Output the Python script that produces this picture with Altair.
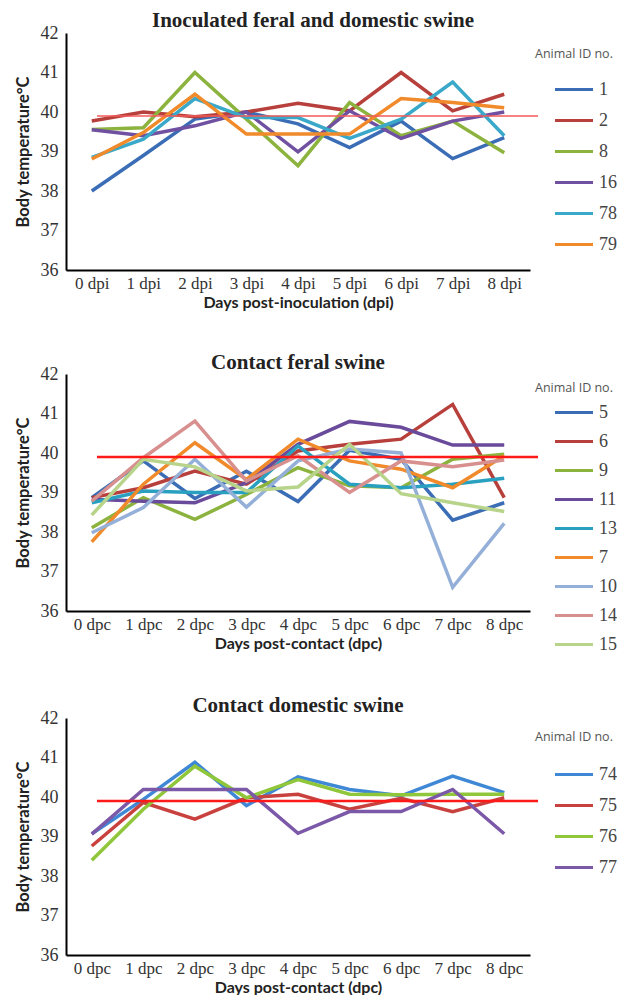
import altair as alt
import pandas as pd

# ---------------- data ----------------
days_dpi = ["0 dpi", "1 dpi", "2 dpi", "3 dpi", "4 dpi", "5 dpi", "6 dpi", "7 dpi", "8 dpi"]
days_dpc = ["0 dpc", "1 dpc", "2 dpc", "3 dpc", "4 dpc", "5 dpc", "6 dpc", "7 dpc", "8 dpc"]

threshold = 39.9

# Panel 1: inoculated feral and domestic swine
ids_inoc = ["1", "2", "8", "16", "78", "79"]
colors_inoc = ["#3a6db5", "#b8403c", "#8bb33e", "#7050a0", "#3aa8c8", "#f08a2a"]
t_1 = [38.0, 38.9, 39.82, 40.0, 39.7, 39.1, 39.77, 38.82, 39.35]
t_2 = [39.77, 40.0, 39.88, 40.0, 40.22, 40.03, 41.0, 40.03, 40.45]
t_8 = [39.56, 39.6, 41.0, 39.82, 38.64, 40.24, 39.4, 39.77, 38.97]
t_16 = [39.55, 39.4, 39.65, 40.0, 38.99, 40.03, 39.33, 39.77, 40.0]
t_78 = [38.85, 39.31, 40.34, 39.86, 39.86, 39.33, 39.82, 40.76, 39.4]
t_79 = [38.81, 39.48, 40.45, 39.44, 39.44, 39.44, 40.34, 40.24, 40.11]

# Panel 2: contact feral swine
ids_feral = ["5", "6", "9", "11", "13", "7", "10", "14", "15"]
colors_feral = ["#3a6db5", "#b8403c", "#8bb33e", "#6a4a9a", "#2aa0c0",
                "#f08a2a", "#95b0d8", "#d8908f", "#b8d48a"]
t_5 = [38.87, 39.8, 38.85, 39.54, 38.77, 40.07, 39.84, 38.3, 38.74]
t_6 = [38.87, 39.12, 39.54, 39.21, 40.05, 40.22, 40.35, 41.23, 38.87]
t_9 = [38.11, 38.87, 38.32, 38.95, 39.63, 39.17, 39.12, 39.84, 39.97]
t_11 = [38.83, 38.78, 38.74, 39.25, 40.22, 40.8, 40.65, 40.2, 40.2]
t_13 = [38.74, 39.04, 39.0, 39.0, 40.18, 39.21, 39.12, 39.21, 39.36]
t_7 = [37.75, 39.21, 40.26, 39.33, 40.35, 39.8, 39.59, 39.12, 39.93]
t_10 = [37.98, 38.62, 39.84, 38.63, 39.8, 40.1, 40.0, 36.6, 38.22]
t_14 = [38.78, 39.88, 40.81, 39.29, 39.93, 39.0, 39.8, 39.65, 39.82]
t_15 = [38.43, 39.84, 39.65, 39.04, 39.14, 40.22, 38.97, 38.74, 38.52]

# Panel 3: contact domestic swine
ids_dom = ["74", "75", "76", "77"]
colors_dom = ["#3f88d6", "#c9413e", "#8fc63a", "#7b58a8"]
t_74 = [39.07, 39.94, 40.88, 39.78, 40.51, 40.19, 40.03, 40.53, 40.11]
t_75 = [38.76, 39.86, 39.44, 39.98, 40.07, 39.69, 39.97, 39.63, 39.98]
t_76 = [38.4, 39.69, 40.78, 39.98, 40.44, 40.07, 40.06, 40.07, 40.07]
t_77 = [39.06, 40.19, 40.19, 40.19, 39.08, 39.63, 39.63, 40.19, 39.07]

y_ticks = [36, 37, 38, 39, 40, 41, 42]

SERIF = "Liberation Serif"
SANS = "Lato"


def long_table(days, ids, series):
    rows = []
    for k, (aid, vals) in enumerate(zip(ids, series)):
        for d, v in zip(days, vals):
            rows.append({"day": d, "temp": v, "animal": aid, "order": k})
    return pd.DataFrame(rows)


def panel(title, days, xtitle, ids, colors, series, legend_y, row_pad,
          title_pad, thr_color, thr_width, t_offset, t_dx):
    df = long_table(days, ids, series)
    x = alt.X("day:N", sort=days,
              scale=alt.Scale(type="point", padding=0.5),
              axis=alt.Axis(title=xtitle, labelAngle=0, ticks=False,
                            domainColor="black", domainWidth=2,
                            labelFont=SERIF, labelFontSize=17, labelColor="#333",
                            labelPadding=5, labelOverlap=False,
                            titleFont=SANS, titleFontSize=16,
                            titleFontWeight="bold", titleColor="#222",
                            titlePadding=3, grid=False))
    y_scale = alt.Scale(domain=[36, 42], nice=False, zero=False)
    y_axis = alt.Axis(title="Body temperature°C", values=y_ticks,
                      ticks=False, domainColor="black", domainWidth=2,
                      labelFont=SERIF, labelFontSize=18, labelColor="#333",
                      labelPadding=8, labelOverlap=False,
                      titleFont=SANS, titleFontSize=16.5,
                      titleFontWeight="bold", titleColor="#222",
                      titlePadding=9, grid=False)
    color = alt.Color(
        "animal:N",
        scale=alt.Scale(domain=ids, range=colors),
        legend=alt.Legend(
            title="Animal ID no.", orient="none", legendX=469, legendY=legend_y,
            titleFont="Open Sans", titleFontSize=12.5, titleFontWeight="normal",
            titleColor="#555", titlePadding=title_pad, padding=0,
            symbolType="M-2,0H2", symbolSize=361, symbolStrokeWidth=3,
            symbolOffset=28, labelOffset=14, labelFont=SERIF,
            labelFontSize=18, labelColor="#444", rowPadding=row_pad,
        ),
    )
    lines = alt.Chart(df).mark_line(strokeWidth=3.5).encode(
        x=x, y=alt.Y("temp:Q", scale=y_scale, axis=y_axis),
        color=color, detail="animal:N", order="order:Q"
    )
    rule = alt.Chart(pd.DataFrame({"t": [threshold]})).mark_rule(
        color=thr_color, strokeWidth=thr_width
    ).encode(y=alt.Y("t:Q", scale=y_scale, axis=y_axis),
             x=alt.value(31), x2=alt.value(472))
    return alt.layer(lines, rule).properties(
        width=464, height=237,
        title=alt.TitleParams(title, font=SERIF, fontSize=21, fontWeight="bold",
                              color="#222", anchor="middle", offset=t_offset,
                              dx=t_dx),
    )


p1 = panel("Inoculated feral and domestic swine", days_dpi,
           "Days post-inoculation (dpi)", ids_inoc, colors_inoc,
           [t_1, t_2, t_8, t_16, t_78, t_79], 15, 11, 18, "#f25a5a", 1.5, -7, 15)
p2 = panel("Contact feral swine", days_dpc, "Days post-contact (dpc)",
           ids_feral, colors_feral,
           [t_5, t_6, t_9, t_11, t_13, t_7, t_10, t_14, t_15], 8, 9, 7,
           "#ff1a1a", 2.5, -8, 0)
p3 = panel("Contact domestic swine", days_dpc, "Days post-contact (dpc)",
           ids_dom, colors_dom, [t_74, t_75, t_76, t_77], 13, 11, 20,
           "#ff1a1a", 2.5, -7, 0)

top = alt.vconcat(p1, p2, spacing=42).resolve_scale(
    x="independent", color="independent", y="independent"
)
chart = alt.vconcat(top, p3, spacing=41).resolve_scale(
    x="independent", color="independent", y="independent"
).configure_view(stroke=None).properties(
    background="white",
    padding={"left": 7, "top": 2, "right": 0, "bottom": 0},
)

chart.save("out.html", embed_options={"renderer": "svg", "actions": False})
